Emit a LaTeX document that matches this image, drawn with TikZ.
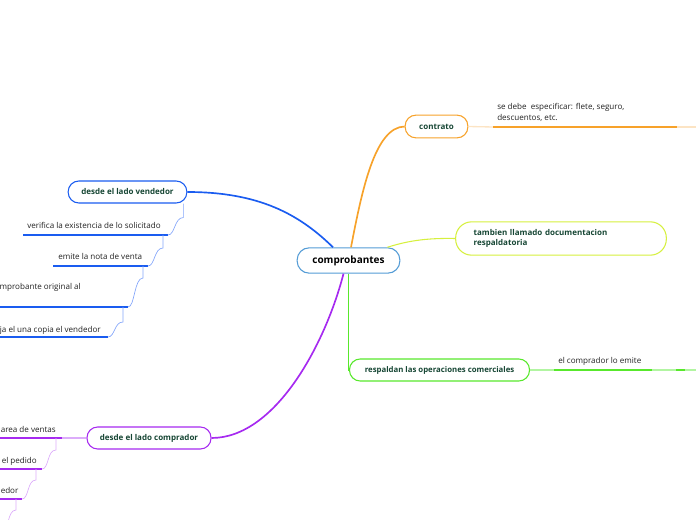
\documentclass[tikz,border=0pt]{standalone}
\usepackage{fontspec}
\setmainfont{Open Sans}
\usepackage{tikz}
\usetikzlibrary{positioning,calc}
\definecolor{rootblue}{RGB}{84,156,214}
\definecolor{orangeA}{RGB}{247,162,42}
\definecolor{orangeL}{RGB}{252,228,196}
\definecolor{limeA}{RGB}{214,240,62}
\definecolor{greenA}{RGB}{88,232,44}
\definecolor{greenL}{RGB}{178,245,162}
\definecolor{blueA}{RGB}{26,92,240}
\definecolor{blueL}{RGB}{132,166,250}
\definecolor{purpA}{RGB}{166,42,240}
\definecolor{purpL}{RGB}{220,172,250}
\definecolor{topicgreen}{RGB}{22,70,52}
\definecolor{txtgray}{RGB}{34,34,34}

\begin{document}
\begin{tikzpicture}[x=0.75pt, y=-0.75pt,
  every node/.style={inner sep=0pt},
  topic/.style={draw, line width=0.8pt, fill=white, rounded corners=8pt, minimum height=16.5pt,
    font=\bfseries\fontsize{6}{7.5}\selectfont, text=topicgreen},
  sub/.style={font=\fontsize{6.05}{8.3}\selectfont, text=txtgray},
  branch/.style={line width=1.25pt},
  twig/.style={line width=0.5pt}]
  \useasboundingbox (0,0) rectangle (696,520);
  % centre
  \node[topic, draw=rootblue, minimum width=77pt, minimum height=19pt, rounded corners=9pt,
    font=\bfseries\fontsize{7.5}{9}\selectfont, text=black] (root) at (348.5,260.5) {comprobantes};

  % contrato
  \node[topic, draw=orangeA, minimum width=47pt, minimum height=17pt] (contr) at (436.5,126.5) {contrato};
  \draw[branch, orangeA] ($(root.north)+(2.5,0)$) .. controls (362,190) and (375,127) .. (contr.west);
  \coordinate (c1l) at (493,127);
  \coordinate (c1r) at (677,127);
  \draw[line width=1pt, orangeL] (contr.east) -- (c1l);
  \draw[line width=1.2pt, orangeA] (c1l) -- (c1r);
  \draw[line width=1pt, orangeL] (c1r) -- (700,127);
  \node[sub, anchor=base west, align=left] (c1) at (497,121)
    {se debe\ \ especificar: flete, seguro,\\descuentos, etc.};

  % tambien llamado
  \node[topic, draw=limeA, minimum height=25pt, rounded corners=12pt, text width=131pt, align=left,
    inner xsep=13.5pt, font=\bfseries\fontsize{6}{8}\selectfont] (tamb) at (561,238.5)
    {tambien llamado documentacion\\respaldatoria};
  \draw[twig, limeA, line width=0.8pt] ($(root.north east)+(-13,0)$) .. controls (410,240) and (430,238) .. (tamb.west);

  % respaldan
  \node[topic, draw=greenA, minimum width=135pt, font=\bfseries\fontsize{5.85}{7}\selectfont] (resp) at (439.5,370)
    {respaldan las operaciones comerciales};
  \draw[branch, greenA, line width=0.9pt] (root.south) |- (resp.west);
  \coordinate (r1l) at (554,370);
  \coordinate (r1r) at (652,370);
  \draw[line width=1pt, greenL] (resp.east) -- (r1l);
  \draw[line width=1.2pt, greenA] (r1l) -- (r1r);
  \draw[line width=1pt, greenL] (r1r) -- (700,370);
  \draw[line width=1.2pt, greenA] (676,370) -- (685,370);
  \node[sub, anchor=base west] (r1) at (558,363) {el comprador lo emite};

  % desde el lado vendedor
  \node[topic, draw=blueA, minimum width=89pt] (vend) at (127.5,192) {desde el lado vendedor};
  \draw[branch, blueA] ($(root.north)+(-15.5,0)$) .. controls (300,215) and (260,192) .. (vend.east);
  \node[sub, anchor=base west] (v1) at (27,229) {verifica la existencia de lo solicitado};
  \node[sub, anchor=base west] (v2) at (58,260) {emite la nota de venta};
  \node[sub, anchor=base east] (v3) at (81,290) {mprobante original al};
  \node[sub, anchor=base east] (v4) at (101,332) {ja el una copia el vendedor};
  \coordinate (v1r) at (168,235);
  \coordinate (v2r) at (148,266);
  \coordinate (v3r) at (128,307);
  \coordinate (v4r) at (108,337);
  \draw[blueA, line width=1pt] (23,235) -- (v1r);
  \draw[blueA, line width=1pt] (53,266) -- (v2r);
  \draw[blueA, line width=1pt] (-5,307) -- (v3r);
  \draw[blueA, line width=1pt] (-5,337) -- (v4r);
  \draw[twig, blueL] ($(vend.south east)+(-4,0)$) -- ++(0,14) .. controls +(-9,0) and +(7,0) .. (v1r);
  \draw[twig, blueL] ($(v1r)+(-5,0)$) -- ++(0,13) .. controls +(-9,0) and +(7,0) .. (v2r);
  \draw[twig, blueL] ($(v2r)+(-5,0)$) -- ++(0,12) .. controls +(-9,0) and +(7,0) .. (v3r);
  \draw[twig, blueL] ($(v3r)+(-5,0)$) -- ++(0,15) .. controls +(-9,0) and +(7,0) .. (v4r);

  % desde el lado comprador
  \node[topic, draw=purpA, minimum width=93pt] (comp) at (149,438) {desde el lado comprador};
  \draw[branch, purpA] ($(root.south)+(-5,0)$) .. controls (325,345) and (275,438) .. (comp.east);
  \node[sub, anchor=base west] (p1) at (0.5,432) {area de ventas};
  \node[sub, anchor=base west] (p2) at (1.5,463) {el pedido};
  \node[sub, anchor=base west] (p3) at (0.5,493) {edor};
  \coordinate (p1r) at (62,438);
  \coordinate (p2r) at (42,469);
  \coordinate (p3r) at (22,499);
  \coordinate (p4r) at (2,532);
  \draw[purpA, line width=1pt] (-5,438) -- (p1r);
  \draw[purpA, line width=1pt] (-5,469) -- (p2r);
  \draw[purpA, line width=1pt] (-5,499) -- (p3r);
  \draw[line width=1pt, purpL] (p1r) -- (comp.west);
  \draw[twig, purpL] ($(p1r)+(-6,0)$) -- ++(0,12) .. controls +(-9,0) and +(7,0) .. (p2r);
  \draw[twig, purpL] ($(p2r)+(-6,0)$) -- ++(0,11) .. controls +(-9,0) and +(7,0) .. (p3r);
  \draw[twig, purpL] ($(p3r)+(-6,0)$) -- ++(0,11) .. controls +(-9,0) and +(7,0) .. (p4r);
\end{tikzpicture}
\end{document}
